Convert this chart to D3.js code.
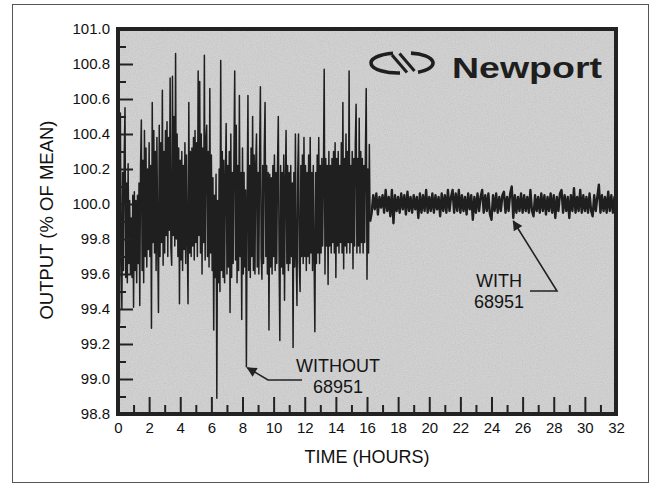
<!DOCTYPE html>
<html>
<head>
<meta charset="utf-8">
<script src="https://cdn.jsdelivr.net/npm/d3@7"></script>
<style>
  body { margin: 0; background: #fff; }
  svg { display: block; font-family: "Liberation Sans", Arial, sans-serif; }
</style>
</head>
<body>
<svg id="chart" width="653" height="484"></svg>
<script>
// readings; without: every 0.05 h from 0, with: every 0.1 h from 16.3
var withoutStart = 0, withoutStep = 0.05;
var withoutValues = [
  99.85, 100.10, 99.32, 100.52, 99.75, 99.40, 100.18, 99.62, 100.28, 100.55,
  99.58, 100.12, 99.55, 100.23, 99.66, 100.02, 99.60, 99.92, 99.58, 100.05,
  99.41, 100.07, 99.62, 100.02, 99.55, 100.05, 99.66, 100.12, 99.42, 100.22,
  100.48, 99.62, 100.25, 99.55, 100.42, 99.70, 100.32, 99.64, 100.20, 99.74,
  100.35, 99.70, 100.22, 99.29, 100.58, 99.78, 100.42, 99.72, 100.30, 99.62,
  100.38, 99.80, 99.38, 100.45, 99.70, 100.35, 99.78, 100.65, 99.65, 100.30,
  99.72, 100.42, 99.82, 100.47, 99.70, 100.38, 99.85, 100.72, 99.75, 99.65,
  100.73, 99.82, 100.50, 99.76, 100.86, 99.80, 100.40, 99.70, 100.32, 99.43,
  100.25, 99.68, 100.30, 99.62, 100.22, 99.74, 100.35, 99.66, 100.28, 99.80,
  99.43, 100.58, 99.72, 100.30, 99.70, 100.32, 99.76, 100.38, 99.68, 100.42,
  99.78, 100.35, 99.70, 100.76, 99.82, 100.70, 99.72, 100.40, 99.60, 100.32,
  99.78, 100.85, 99.68, 100.36, 100.45, 99.70, 100.30, 99.64, 100.66, 99.72,
  100.28, 99.62, 100.15, 99.28, 100.05, 99.58, 100.17, 98.89, 100.02, 99.55,
  100.20, 99.50, 100.82, 99.62, 100.30, 99.58, 100.25, 99.55, 100.15, 100.46,
  99.60, 100.22, 99.64, 100.30, 99.38, 100.40, 99.58, 100.18, 99.66, 100.28,
  100.76, 99.68, 100.45, 99.55, 100.22, 99.62, 100.62, 99.70, 100.18, 99.34,
  100.32, 99.60, 100.18, 99.64, 100.08, 99.07, 100.02, 100.62, 99.62, 100.22,
  99.58, 100.32, 99.70, 100.50, 99.62, 100.28, 99.60, 100.22, 100.40, 99.64,
  100.18, 99.60, 100.28, 100.67, 99.70, 99.57, 100.22, 99.66, 100.32, 100.58,
  99.70, 100.22, 99.60, 100.18, 99.28, 100.17, 99.64, 100.15, 99.60, 100.22,
  99.70, 100.28, 99.62, 100.18, 99.66, 100.22, 100.50, 99.70, 99.22, 100.22,
  99.64, 100.18, 99.60, 100.28, 99.45, 100.12, 100.42, 99.66, 100.22, 99.62,
  100.18, 99.66, 100.22, 99.70, 100.12, 99.18, 100.18, 99.64, 100.40, 99.70,
  99.42, 100.18, 100.40, 99.66, 99.50, 100.22, 99.70, 100.28, 99.66, 100.38,
  99.70, 100.22, 99.62, 100.18, 99.70, 100.28, 99.66, 100.38, 99.72, 100.18,
  99.62, 100.22, 99.70, 99.27, 100.18, 99.66, 100.28, 99.72, 100.38, 99.66,
  100.22, 99.72, 100.26, 99.76, 100.18, 100.77, 99.60, 100.26, 99.76, 100.22,
  99.54, 100.30, 99.76, 100.22, 99.72, 100.26, 99.78, 100.30, 99.72, 100.35,
  99.58, 100.26, 99.76, 100.30, 99.72, 100.22, 99.78, 100.35, 99.72, 100.58,
  99.63, 100.26, 99.76, 100.40, 99.72, 100.30, 99.78, 100.76, 99.72, 100.22,
  99.78, 100.30, 99.63, 100.26, 99.76, 100.35, 100.57, 99.72, 100.26, 99.76,
  100.49, 99.72, 100.30, 99.78, 100.26, 99.72, 100.22, 99.78, 100.30, 100.66,
  99.57, 100.20, 99.72, 100.34, 99.90
];
var withStart = 16.3, withStep = 0.1;
var withValues = [
  99.95, 100.05, 99.97, 100.06, 99.94, 100.04, 99.98,
  100.05, 99.95, 100.08, 99.96, 100.04, 99.93, 100.08, 99.89, 100.05, 99.96,
  100.04, 99.95, 100.06, 99.97, 100.05, 99.94, 100.07, 99.96, 100.04, 99.95,
  100.05, 99.97, 100.04, 99.92, 100.06, 99.95, 100.05, 99.96, 100.08, 99.95,
  100.04, 99.96, 100.06, 99.95, 100.05, 99.97, 100.04, 99.93, 100.06, 99.96,
  100.05, 99.95, 100.08, 99.96, 100.04, 100.08, 99.95, 100.06, 99.96, 100.08,
  99.95, 100.05, 99.96, 100.04, 99.94, 100.06, 99.97, 100.05, 99.91, 100.04,
  99.95, 100.06, 99.96, 100.04, 100.08, 99.95, 100.05, 99.96, 100.06, 99.94,
  99.91, 100.05, 99.96, 100.06, 99.95, 100.04, 99.96, 100.05, 100.07, 99.95,
  100.04, 99.96, 100.06, 100.10, 99.92, 100.05, 99.95, 100.04, 99.96, 100.06,
  99.95, 100.05, 99.96, 100.04, 99.95, 100.08, 99.96, 99.93, 100.05, 99.96,
  100.04, 99.95, 100.06, 99.96, 100.05, 99.94, 100.04, 99.96, 100.06, 99.95,
  100.05, 99.92, 100.04, 99.96, 100.06, 100.08, 99.95, 100.05, 99.96, 100.04,
  99.92, 100.05, 99.96, 100.09, 99.95, 100.04, 99.96, 100.08, 99.95, 100.05,
  99.96, 100.04, 99.95, 100.06, 99.96, 99.93, 100.05, 99.96, 100.04, 100.11,
  99.95, 100.05, 99.96, 100.04, 99.95, 100.07, 99.96, 100.05, 99.95, 100.04,
  100.02
];

var xTicks = [0, 2, 4, 6, 8, 10, 12, 14, 16, 18, 20, 22, 24, 26, 28, 30, 32];
var xMinor = [1, 3, 5, 7, 9, 11, 13, 15, 17, 19, 21, 23, 25, 27, 29, 31];
var yTicks = [98.8, 99.0, 99.2, 99.4, 99.6, 99.8, 100.0, 100.2, 100.4, 100.6, 100.8, 101.0];
var yMinor = [98.9, 99.1, 99.3, 99.5, 99.7, 99.9, 100.1, 100.3, 100.5, 100.7, 100.9];

var svg = d3.select("#chart");
var plotL = 118, plotR = 616, plotT = 29, plotB = 414;
var ink = "#222";

var x = d3.scaleLinear().domain([0, 32]).range([plotL, plotR]);
var y = d3.scaleLinear().domain([98.8, 101.0]).range([plotB, plotT]);

/* scanned paper grain */
var defs = svg.append("defs");
var f = defs.append("filter").attr("id", "grain")
    .attr("x", 0).attr("y", 0).attr("width", 1).attr("height", 1);
f.append("feTurbulence").attr("type", "fractalNoise")
    .attr("baseFrequency", 0.85).attr("numOctaves", 2).attr("seed", 7);
f.append("feColorMatrix").attr("type", "matrix")
    .attr("values", "0.33 0.33 0.33 0 0  0.33 0.33 0.33 0 0  0.33 0.33 0.33 0 0  0 0 0 0 0.24");

// outer border of the figure
svg.append("rect")
    .attr("x", 12.5).attr("y", 4.5).attr("width", 636).attr("height", 478)
    .attr("fill", "none").attr("stroke", "#555").attr("stroke-width", 1);

svg.append("rect")
    .attr("x", plotL).attr("y", plotT)
    .attr("width", plotR - plotL).attr("height", plotB - plotT)
    .attr("fill", "#d4d4d4");
svg.append("rect")
    .attr("x", plotL).attr("y", plotT)
    .attr("width", plotR - plotL).attr("height", plotB - plotT)
    .attr("filter", "url(#grain)");

/* the trace */
var before = withoutValues.map(function(v, i) { return [withoutStart + i * withoutStep, v]; });
var after = [before[before.length - 1]].concat(
    withValues.map(function(v, i) { return [withStart + i * withStep, v]; }));

var line = d3.line()
    .x(function(d) { return x(d[0]); })
    .y(function(d) { return y(d[1]); });

svg.append("path")
    .datum(before)
    .attr("d", line)
    .attr("fill", "none")
    .attr("stroke", "#1f1f1f")
    .attr("stroke-width", 1.5)
    .attr("stroke-linejoin", "round");

svg.append("path")
    .datum(after)
    .attr("d", line)
    .attr("fill", "none")
    .attr("stroke", "#1f1f1f")
    .attr("stroke-width", 2.4)
    .attr("stroke-linejoin", "round");

/* axes, ticks point inward */
var gx = svg.append("g").attr("transform", "translate(0," + plotB + ")")
    .call(d3.axisBottom(x).tickValues(xTicks).tickSize(-17).tickPadding(8)
        .tickFormat(d3.format("d")));
var gxm = svg.append("g").attr("transform", "translate(0," + plotB + ")")
    .call(d3.axisBottom(x).tickValues(xMinor).tickSize(-9).tickFormat(""));
var gy = svg.append("g").attr("transform", "translate(" + plotL + ",0)")
    .call(d3.axisLeft(y).tickValues(yTicks).tickSize(-15).tickPadding(8)
        .tickFormat(d3.format(".1f")));
var gym = svg.append("g").attr("transform", "translate(" + plotL + ",0)")
    .call(d3.axisLeft(y).tickValues(yMinor).tickSize(-8).tickFormat(""));

[gx, gxm, gy, gym].forEach(function(g) {
    g.attr("font-size", 15).attr("font-family", "'Liberation Sans', Arial, sans-serif");
    g.select(".domain").remove();
    g.selectAll(".tick line").attr("stroke", ink).attr("stroke-width", 2);
    g.selectAll(".tick text").attr("fill", "#111");
});

// heavy frame
svg.append("rect")
    .attr("x", plotL).attr("y", plotT)
    .attr("width", plotR - plotL).attr("height", plotB - plotT)
    .attr("fill", "none").attr("stroke", ink).attr("stroke-width", 4);

/* axis titles */
svg.append("text")
    .attr("x", 367).attr("y", 463)
    .attr("text-anchor", "middle")
    .attr("fill", "#111")
    .style("font-size", "18px")
    .text("TIME (HOURS)");

svg.append("text")
    .attr("transform", "translate(53,220) rotate(-90)")
    .attr("text-anchor", "middle")
    .attr("fill", "#111")
    .style("font-size", "18.5px")
    .text("OUTPUT (% OF MEAN)");

/* Newport logo */
var logo = svg.append("g")
    .attr("fill", "none").attr("stroke", "#1e1e1e").attr("stroke-width", 3.6)
    .attr("stroke-linecap", "butt");
logo.append("path").attr("d", "M393,53.2 A27,10 0 0 0 400,73");
logo.append("path").attr("d", "M411,53.1 A25,10 0 0 1 418,72.2");
logo.append("path").attr("d", "M392,55 L407,72.5").attr("stroke-width", 3);
logo.append("path").attr("d", "M399.5,53.5 L414.5,71").attr("stroke-width", 3);

svg.append("text")
    .attr("x", 452).attr("y", 78)
    .attr("fill", "#1e1e1e")
    .attr("textLength", 150).attr("lengthAdjust", "spacingAndGlyphs")
    .style("font-size", "29px").style("font-weight", "bold")
    .text("Newport");

/* annotations */
defs.append("marker").attr("id", "head")
    .attr("viewBox", "0 0 10 10").attr("refX", 9).attr("refY", 5)
    .attr("markerWidth", 14).attr("markerHeight", 10)
    .attr("markerUnits", "userSpaceOnUse")
    .attr("orient", "auto")
  .append("path").attr("d", "M0,0 L10,5 L0,10 Z").attr("fill", ink);

function note(lines, cx, y0) {
    var t = svg.append("text").attr("text-anchor", "middle").attr("fill", "#151515")
        .style("font-size", "18px");
    lines.forEach(function(s, i) {
        t.append("tspan").attr("x", cx).attr("y", y0 + i * 21).text(s);
    });
}

note(["WITHOUT", "68951"], 338, 372);
svg.append("path")
    .attr("d", "M302,380 L268,380 L" + (x(8.25) + 1) + "," + (y(99.07) + 1))
    .attr("fill", "none").attr("stroke", ink).attr("stroke-width", 1.6)
    .attr("marker-end", "url(#head)");

note(["WITH", "68951"], 499, 287);
svg.append("path")
    .attr("d", "M530,291 L557,291 L" + x(25.4) + "," + (y(99.92) + 3))
    .attr("fill", "none").attr("stroke", ink).attr("stroke-width", 1.6)
    .attr("marker-end", "url(#head)");
</script>
</body>
</html>
